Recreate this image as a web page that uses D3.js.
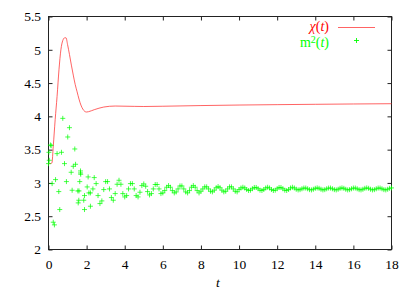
<!DOCTYPE html>
<html><head><meta charset="utf-8">
<script src="https://cdn.jsdelivr.net/npm/d3@7"></script>
<style>
body{margin:0;background:#fff}
svg, svg text, svg g{font-family:"Liberation Serif","DejaVu Serif","Times New Roman",serif !important}
</style>
</head><body>
<svg id="c" width="415" height="291"></svg>
<script>
// ---- data ----
const xTicks = [0, 2, 4, 6, 8, 10, 12, 14, 16, 18];
const yTicks = [2, 2.5, 3, 3.5, 4, 4.5, 5, 5.5];
const yTickLabels = ["2", "2.5", "3", "3.5", "4", "4.5", "5", "5.5"];

const chiT = [0, 0.1, 0.18, 0.25, 0.35, 0.45, 0.55, 0.65, 0.75, 0.85, 0.92, 1.0, 1.1, 1.2, 1.3, 1.4, 1.5, 1.6, 1.7, 1.8, 1.9, 2.0, 2.1, 2.4, 2.9, 3.5, 4.5, 5.0, 6.0, 8.0, 10.0, 12.0, 14.0, 16.0, 18.0];
const chiV = [3.29, 3.29, 3.30, 3.55, 3.95, 4.30, 4.70, 5.00, 5.14, 5.18, 5.18, 5.08, 4.93, 4.77, 4.62, 4.48, 4.37, 4.26, 4.17, 4.11, 4.075, 4.065, 4.07, 4.10, 4.14, 4.155, 4.15, 4.148, 4.152, 4.162, 4.17, 4.176, 4.181, 4.186, 4.19];

const m2Points = [
[0.00,3.29],[0.02,3.46],[0.04,3.34],[0.10,3.57],[0.14,3.56],[0.19,2.99],[0.25,2.41],[0.31,2.37],
[0.37,3.05],[0.45,3.44],[0.54,2.87],[0.59,2.60],[0.68,3.46],[0.75,3.97],[0.84,3.29],[0.94,3.02],
[1.01,3.69],[1.10,3.83],[1.19,3.16],[1.24,2.89],[1.30,3.25],[1.38,3.51],[1.42,3.28],[1.54,2.88],
[1.56,2.70],[1.59,2.74],[1.60,2.88],[1.64,3.02],[1.68,3.18],[1.68,3.15],[1.69,3.13],[1.85,2.74],
[1.89,2.81],[1.89,2.60],[2.03,2.94],[2.08,3.09],[2.12,2.85],[2.20,2.65],[2.20,2.85],[2.33,2.91],
[2.4,3.08],[2.5,2.99],[2.6,2.81],[2.7,2.69],[2.8,2.73],[2.9,2.90],[3.0,3.02],[3.1,3.02],[3.2,2.91],
[3.3,2.78],[3.4,2.74],[3.5,2.84],[3.6,2.98],[3.7,3.04],[3.8,2.98],[3.9,2.84],[4.0,2.79],[4.1,2.81],
[4.2,2.91],[4.3,2.99],[4.4,2.99],[4.5,2.91],[4.6,2.81],[4.7,2.79],[4.8,2.86],[4.9,2.96],[5.0,2.985],
[5.1,2.95],[5.2,2.87],[5.3,2.82],[5.4,2.84],[5.5,2.91],[5.6,2.976],[5.7,2.976],[5.8,2.91],[5.9,2.84],
[6.0,2.85],[6.1,2.885],[6.2,2.935],[6.3,2.96],[6.4,2.935],[6.5,2.885],[6.6,2.85],[6.7,2.865],[6.8,2.91],
[6.9,2.955],[7.0,2.955],[7.1,2.91],[7.2,2.865],[7.3,2.85],[7.4,2.885],[7.5,2.935],[7.6,2.96],[7.7,2.935],
[7.8,2.885],[7.9,2.85],[8.0,2.875],[8.1,2.91],[8.2,2.941],[8.3,2.941],[8.4,2.91],[8.5,2.875],[8.6,2.866],
[8.7,2.891],[8.8,2.928],[8.9,2.945],[9.0,2.928],[9.1,2.891],[9.2,2.866],[9.3,2.875],[9.4,2.91],[9.5,2.941],
[9.6,2.941],[9.7,2.91],[9.8,2.875],[9.9,2.866],[10.0,2.901],[10.1,2.924],[10.2,2.935],[10.3,2.924],
[10.4,2.901],[10.5,2.886],[10.6,2.891],[10.7,2.913],[10.8,2.932],[10.9,2.932],[11.0,2.913],
[11.1,2.891],[11.2,2.886],[11.3,2.901],[11.4,2.924],[11.5,2.935],[11.6,2.924],[11.7,2.901],[11.8,2.886],
[11.9,2.891],[12.0,2.913],[12.1,2.932],[12.2,2.932],[12.3,2.913],[12.4,2.891],[12.5,2.886],[12.6,2.901],
[12.7,2.924],[12.8,2.935],[12.9,2.924],[13.0,2.905],[13.1,2.895],[13.2,2.899],[13.3,2.912],[13.4,2.923],
[13.5,2.923],[13.6,2.912],[13.7,2.899],[13.8,2.895],[13.9,2.905],[14.0,2.919],[14.1,2.925],[14.2,2.919],
[14.3,2.905],[14.4,2.895],[14.5,2.899],[14.6,2.912],[14.7,2.923],[14.8,2.923],[14.9,2.912],[15.0,2.899],
[15.1,2.895],[15.2,2.905],[15.3,2.919],[15.4,2.925],[15.5,2.919],[15.6,2.905],[15.7,2.895],[15.8,2.899],
[15.9,2.912],[16.0,2.923],[16.1,2.923],[16.2,2.912],[16.3,2.899],[16.4,2.895],[16.5,2.905],[16.6,2.919],
[16.7,2.925],[16.8,2.919],[16.9,2.905],[17.0,2.895],[17.1,2.899],[17.2,2.912],[17.3,2.923],[17.4,2.923],
[17.5,2.912],[17.6,2.899],[17.7,2.895],[17.8,2.905],[17.9,2.919],[18.0,2.925]
];

// ---- layout ----
const svg = d3.select("#c");
const L = 48.5, R = 391.5, T = 16.5, B = 249.5;
const x = d3.scaleLinear().domain([0, 18]).range([L, R]);
const y = d3.scaleLinear().domain([2, 5.5]).range([B, T]);
const axisColor = "#222";

// axes with inward ticks (mirrored on top and right)
const gB = svg.append("g").attr("transform", `translate(0,${B})`)
  .call(d3.axisBottom(x).tickValues(xTicks).tickFormat(d3.format("d")).tickSize(-4).tickPadding(9.5));
const gT = svg.append("g").attr("transform", `translate(0,${T})`)
  .call(d3.axisTop(x).tickValues(xTicks).tickFormat("").tickSize(-4));
const gL = svg.append("g").attr("transform", `translate(${L},0)`)
  .call(d3.axisLeft(y).tickValues(yTicks).tickFormat((d, i) => yTickLabels[i]).tickSize(-4).tickPadding(7.5));
const gR = svg.append("g").attr("transform", `translate(${R},0)`)
  .call(d3.axisRight(y).tickValues(yTicks).tickFormat("").tickSize(-4));
[gB, gT, gL, gR].forEach(g => {
  g.attr("font-family", null).attr("font-size", 13.5);
  g.select(".domain").remove();
  g.selectAll(".tick line").attr("stroke", axisColor);
  g.selectAll(".tick text").attr("fill", "#000");
});

svg.append("rect").attr("x", L).attr("y", T).attr("width", R - L).attr("height", B - T)
  .attr("fill", "none").attr("stroke", axisColor).attr("stroke-width", 1);

// chi line
const chiData = chiT.map((t, i) => [t, chiV[i]]);
svg.append("path").datum(chiData)
  .attr("d", d3.line().x(d => x(d[0])).y(d => y(d[1])).curve(d3.curveMonotoneX))
  .attr("fill", "none").attr("stroke", "#ff3030").attr("stroke-width", 1).attr("stroke-opacity", 0.75);

// m^2 points (plus markers)
const plus = (cx, cy, s) => `M${cx - s},${cy}H${cx + s}M${cx},${cy - s}V${cy + s}`;
svg.append("g").selectAll("path").data(m2Points).join("path")
  .attr("d", d => plus(x(d[0]), y(d[1]), 2.5))
  .attr("stroke", "#00ff00").attr("stroke-width", 0.9).attr("stroke-opacity", 0.8).attr("fill", "none");

// legend
const lg = svg.append("g").attr("font-size", 14);
const t1 = lg.append("text").attr("x", 329).attr("y", 31).attr("text-anchor", "end").attr("fill", "#ff0000");
t1.append("tspan").attr("font-style", "italic").text("χ");
t1.append("tspan").text("(");
t1.append("tspan").attr("font-style", "italic").text("t");
t1.append("tspan").text(")");
lg.append("line").attr("x1", 338).attr("x2", 375).attr("y1", 27.5).attr("y2", 27.5)
  .attr("stroke", "#ff3030").attr("stroke-opacity", 0.75);
const t2 = lg.append("text").attr("x", 329).attr("y", 47).attr("text-anchor", "end").attr("fill", "#00ff00");
t2.append("tspan").text("m");
t2.append("tspan").attr("dy", -4).attr("font-size", 10).text("2");
t2.append("tspan").attr("dy", 4).text("(");
t2.append("tspan").attr("font-style", "italic").text("t");
t2.append("tspan").text(")");
lg.append("path").attr("d", plus(356.5, 40.5, 2.5)).attr("stroke", "#00ff00").attr("stroke-width", 0.9).attr("fill", "none");

// x label
svg.append("text").attr("x", 218).attr("y", 287).attr("text-anchor", "middle")
  .attr("font-size", 13.5).attr("font-style", "italic").text("t");
</script>
</body></html>
